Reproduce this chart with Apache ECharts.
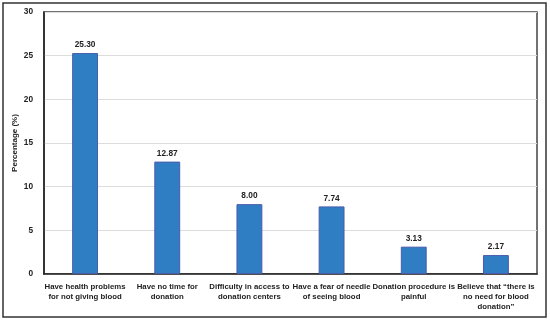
<!DOCTYPE html>
<html><head><meta charset="utf-8">
<script src="https://cdn.jsdelivr.net/npm/echarts@6/dist/echarts.min.js"></script>
<style>html,body{margin:0;padding:0;background:#fff}#c{width:550px;height:320px}</style>
</head><body><div id="c"></div>
<script>
const categories = [
  "Have health problems\nfor not giving blood",
  "Have no time for\ndonation",
  "Difficulty in access to\ndonation centers",
  "Have a fear of needle\nof seeing blood",
  "Donation procedure is\npainful",
  "Believe that \u201cthere is\nno need for blood\ndonation\u201d"
];
const values = [25.30, 12.87, 8.00, 7.74, 3.13, 2.17];
const yTicks = { min: 0, max: 30, interval: 5 };

const FONT = '"Liberation Sans", Arial, sans-serif';
const chart = echarts.init(document.getElementById('c'), null, { renderer: 'canvas' });
chart.setOption({
  animation: false,
  backgroundColor: '#fff',
  grid: { left: 44, right: 13, top: 12, bottom: 46, show: true, borderColor: '#444', borderWidth: 1.5, containLabel: false, outerBoundsMode: 'none' },
  graphic: [{ type: 'rect', shape: { x: 3, y: 3, width: 543, height: 314 }, style: { fill: 'none', stroke: '#333', lineWidth: 1.5 }, silent: true }],
  xAxis: {
    type: 'category', data: categories,
    axisLine: { lineStyle: { color: '#222', width: 1.5 } },
    axisTick: { show: false },
    axisLabel: { interval: 0, color: '#222', fontWeight: 'bold', fontSize: 7.8, fontFamily: FONT, lineHeight: 10, margin: 8 }
  },
  yAxis: {
    type: 'value', min: yTicks.min, max: yTicks.max, interval: yTicks.interval,
    name: 'Percentage (%)', nameLocation: 'middle', nameGap: 25, nameMoveOverlap: false,
    nameTextStyle: { color: '#222', fontWeight: 'bold', fontSize: 8, fontFamily: FONT },
    axisLine: { show: true, lineStyle: { color: '#222', width: 1.5 } },
    axisTick: { show: false },
    axisLabel: { color: '#222', fontWeight: 'bold', fontSize: 8.3, fontFamily: FONT, margin: 11 },
    splitLine: { lineStyle: { color: '#dcdcdc', width: 1 } }
  },
  series: [{
    type: 'bar', data: values, barWidth: '31.5%',
    itemStyle: { color: '#2f7ec4', borderColor: '#4a5cab', borderWidth: 1 },
    label: { show: true, position: 'top', formatter: p => p.value.toFixed(2), color: '#222', fontWeight: 'bold', fontSize: 8.3, fontFamily: FONT, distance: 4 }
  }]
});
</script></body></html>
